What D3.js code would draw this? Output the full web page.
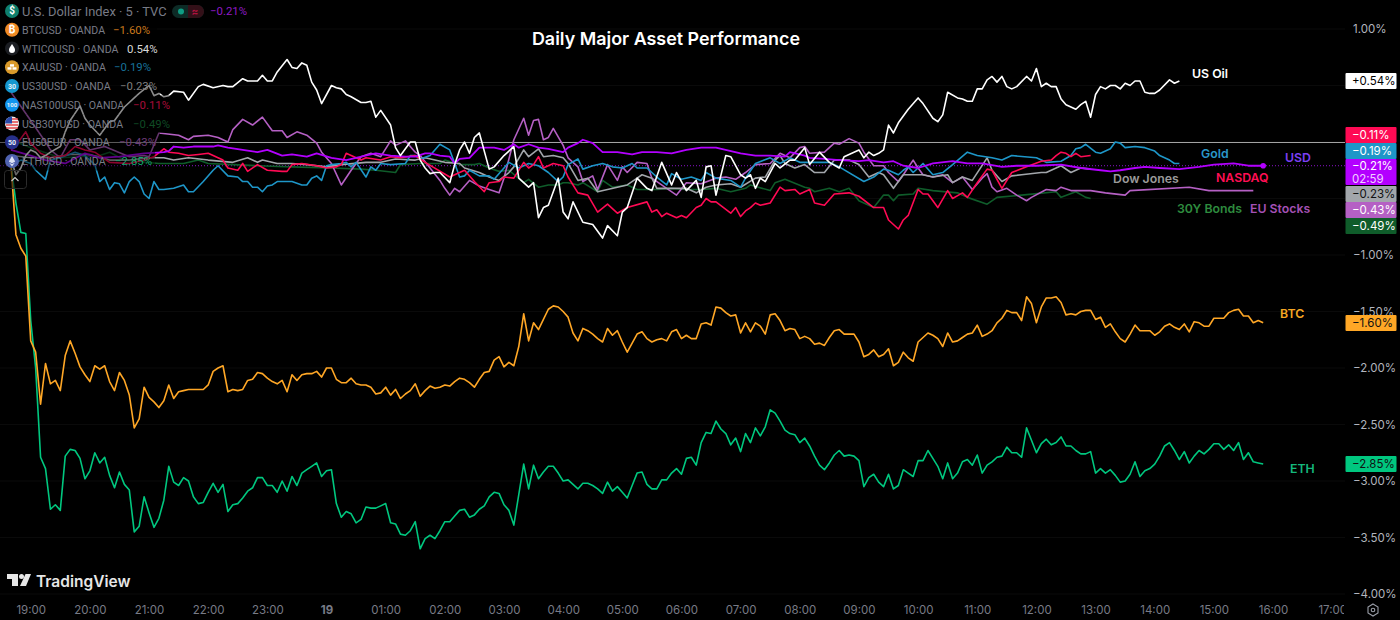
<!DOCTYPE html>
<html>
<head>
<meta charset="utf-8">
<script src="https://cdn.jsdelivr.net/npm/d3@7"></script>
<style>
  html, body { margin: 0; background: #000; overflow: hidden; }
  text { font-family: Inter, "Open Sans", sans-serif; }
  .legend text { font-family: Roboto, Inter, sans-serif; }
</style>
</head>
<body>
<script>
// five-minute bars counted from 18:40, values are % change
const btcValues = [-0.20,-0.82,-0.94,-1.01,-1.76,-1.86,-2.32,-1.96,-2.14,-2.11,-2.20,-1.89,-1.76,-1.87,-1.99,-2.06,-2.12,-1.98,-2.01,-1.98,-2.12,-2.20,-2.04,-2.11,-2.24,-2.53,-2.45,-2.17,-2.26,-2.30,-2.35,-2.29,-2.15,-2.27,-2.21,-2.20,-2.19,-2.19,-2.19,-2.19,-2.15,-2.03,-2.00,-1.98,-2.21,-2.19,-2.20,-2.19,-2.11,-2.10,-2.04,-2.05,-2.09,-2.12,-2.14,-2.11,-2.21,-2.06,-2.11,-2.06,-2.05,-2.05,-2.03,-2.08,-2.00,-2.00,-2.10,
  -2.13,-2.13,-2.09,-2.14,-2.15,-2.15,-2.17,-2.23,-2.22,-2.17,-2.24,-2.19,-2.27,-2.23,-2.20,-2.14,-2.25,-2.20,-2.16,-2.18,-2.17,-2.15,-2.16,-2.12,-2.09,-2.10,-2.13,-2.17,-2.10,-2.04,-2.03,-1.93,-1.90,-1.99,-1.95,-1.98,-1.81,-1.52,-1.76,-1.60,-1.66,-1.57,-1.48,-1.45,-1.46,-1.50,-1.55,-1.69,-1.76,-1.65,-1.67,-1.70,-1.74,-1.77,-1.65,-1.71,-1.67,-1.77,-1.86,-1.78,-1.70,-1.68,-1.74,-1.77,-1.75,-1.74,-1.76,-1.68,-1.66,-1.74,-1.71,-1.74,-1.74,-1.61,-1.60,-1.62,-1.46,-1.47,-1.51,-1.54,-1.53,-1.69,-1.60,-1.68,-1.60,-1.63,-1.70,-1.53,-1.52,-1.58,-1.67,-1.65,-1.66,
  -1.74,-1.72,-1.74,-1.79,-1.78,-1.80,-1.73,-1.67,-1.66,-1.70,-1.70,-1.70,-1.77,-1.90,-1.88,-1.84,-1.90,-1.88,-1.83,-1.98,-1.95,-1.86,-1.91,-1.94,-1.77,-1.73,-1.69,-1.71,-1.74,-1.81,-1.69,-1.77,-1.76,-1.73,-1.70,-1.69,-1.62,-1.72,-1.70,-1.67,-1.60,-1.56,-1.49,-1.51,-1.51,-1.58,-1.37,-1.43,-1.60,-1.46,-1.38,-1.38,-1.37,-1.42,-1.53,-1.52,-1.53,-1.50,-1.49,-1.49,-1.57,-1.55,-1.64,-1.61,-1.68,-1.74,-1.77,-1.70,-1.62,-1.67,-1.67,-1.67,-1.71,-1.68,-1.63,-1.61,-1.64,-1.66,-1.61,-1.68,-1.59,-1.60,-1.63,-1.63,-1.56,-1.56,-1.56,-1.51,-1.49,-1.48,-1.54,-1.54,-1.60,-1.58,-1.60];

const ethValues = [-0.20,-0.54,-0.80,-0.81,-1.58,-2.00,-2.79,-2.89,-3.25,-3.21,-3.26,-2.78,-2.72,-2.73,-2.80,-2.98,-2.91,-2.75,-2.84,-2.79,-2.95,-3.06,-2.92,-3.03,-3.08,-3.45,-3.40,-3.14,-3.28,-3.41,-3.33,-3.17,-2.87,-3.01,-3.04,-2.97,-3.00,-3.14,-3.20,-3.19,-3.10,-3.02,-3.10,-3.03,-3.27,-3.21,-3.20,-3.15,-3.09,-3.06,-2.97,-2.97,-3.04,-3.04,-3.10,-3.00,-3.09,-2.96,-3.04,-2.93,-2.90,-2.87,-2.84,-2.96,-2.91,-2.90,-3.20,
  -3.32,-3.27,-3.29,-3.37,-3.34,-3.23,-3.24,-3.24,-3.22,-3.20,-3.37,-3.38,-3.47,-3.48,-3.44,-3.36,-3.60,-3.51,-3.48,-3.51,-3.44,-3.36,-3.36,-3.31,-3.26,-3.25,-3.32,-3.30,-3.25,-3.22,-3.14,-3.10,-3.11,-3.21,-3.26,-3.39,-3.12,-2.85,-3.07,-2.86,-2.98,-2.92,-2.87,-2.87,-2.93,-3.00,-2.99,-3.03,-3.07,-3.02,-3.02,-3.04,-3.07,-3.11,-3.01,-3.09,-3.05,-3.10,-3.15,-3.04,-2.93,-2.92,-3.03,-3.07,-3.07,-2.99,-2.99,-2.93,-2.89,-2.94,-2.80,-2.79,-2.86,-2.66,-2.57,-2.58,-2.47,-2.54,-2.58,-2.68,-2.62,-2.74,-2.58,-2.66,-2.53,-2.60,-2.52,-2.37,-2.40,-2.47,-2.55,-2.58,-2.59,
  -2.66,-2.62,-2.69,-2.78,-2.86,-2.90,-2.84,-2.77,-2.73,-2.78,-2.77,-2.78,-2.82,-3.05,-2.97,-2.94,-3.01,-3.05,-2.94,-3.07,-3.04,-2.90,-2.93,-2.96,-2.82,-2.82,-2.73,-2.80,-2.87,-2.98,-2.84,-2.98,-2.93,-2.83,-2.81,-2.86,-2.77,-2.93,-2.86,-2.83,-2.79,-2.78,-2.70,-2.75,-2.75,-2.79,-2.53,-2.64,-2.75,-2.67,-2.63,-2.68,-2.66,-2.61,-2.69,-2.69,-2.73,-2.76,-2.76,-2.74,-2.93,-2.89,-2.93,-2.90,-2.95,-3.01,-3.00,-2.94,-2.83,-2.96,-2.91,-2.89,-2.85,-2.78,-2.69,-2.66,-2.73,-2.81,-2.74,-2.84,-2.78,-2.73,-2.76,-2.72,-2.67,-2.67,-2.72,-2.68,-2.73,-2.66,-2.81,-2.75,-2.83,-2.84,-2.85];

// the rest as [bar, %] pairs, read at the line's visible corners
const oilPoints = [[0,-.15],[1,-.29],[2,-.23],[3,-.12],[4,-.07],[5,-.09],[6,-.14],[7,-.12],[8,-.09],[10,-.04],[11,.09],[12,.19],[14,.32],[15,.21],[16,.15],[18,.06],[20,.18],[21,.19],[23,.31],[25,.39],[26,.43],[28,.50],[29,.41],[30,.43],[31,.40],[32,.41],[33,.45],[35,.44],[36,.37],[38,.49],[39,.51],[41,.48],[43,.50],[44,.49],[45,.49],[47,.56],[48,.54],[50,.54],[51,.59],[52,.54],[53,.54],[54,.62],[56,.73],[57,.66],[58,.65],[59,.70],[60,.68],[61,.53],[62,.46],[63,.34],[65,.50],[66,.48],[67,.47],[68,.42],[69,.40],[71,.35],[72,.35],[73,.36],[74,.22],[75,.28],[77,.15],[78,-.05],[79,-.12],[81,0],[82,0],[83,-.16],[84,-.23],[85,-.28],[86,-.27],[87,-.27],[89,-.36],[90,-.20],[91,-.07],[92,0],[93,-.10],[94,.04],[95,.08],[97,-.24],[98,-.22],[100,-.12],[102,-.04],[103,-.32],[104,-.36],[105,-.40],[106,-.36],[107,-.67],[108,-.58],[109,-.56],[111,-.32],[112,-.62],[113,-.68],[114,-.53],[116,-.71],[118,-.73],[120,-.85],[121,-.74],[123,-.83],[124,-.62],[125,-.58],[127,-.32],[129,-.41],[130,-.43],[132,-.18],[134,-.38],[135,-.27],[137,-.43],[139,-.34],[140,-.49],[141,-.22],[142,-.21],[143,-.47],[145,-.12],[146,-.13],[148,-.29],[149,-.32],[150,-.29],[151,-.41],[152,-.32],[153,-.35],[155,-.19],[156,-.23],[158,-.16],[159,-.16],[161,-.05],[162,-.20],[164,-.09],[166,-.18],[168,-.23],[169,-.13],[172,-.07],[173,-.14],[174,-.09],[175,-.12],[176,-.10],[177,-.07],[178,.15],[179,.08],[180,.17],[182,.29],[184,.39],[185,.34],[187,.21],[188,.18],[189,.24],[190,.44],[192,.39],[193,.38],[194,.36],[195,.36],[196,.47],[197,.47],[198,.55],[199,.58],[200,.53],[201,.58],[202,.49],[203,.47],[204,.49],[206,.58],[207,.54],[208,.65],[209,.49],[210,.52],[211,.49],[212,.49],[213,.38],[214,.33],[216,.29],[217,.33],[218,.36],[219,.22],[220,.42],[221,.49],[222,.47],[223,.50],[224,.50],[225,.47],[226,.52],[227,.50],[228,.54],[229,.54],[230,.44],[231,.43],[232,.43],[233,.46],[235,.55],[236,.52],[237,.54]];

const goldPoints = [[0,-.21],[2,-.16],[4,-.19],[5,-.25],[7,-.33],[8,-.16],[10,-.14],[13,-.09],[15,-.12],[17,-.20],[18,-.35],[19,-.31],[20,-.42],[21,-.36],[22,-.37],[23,-.45],[24,-.35],[25,-.31],[26,-.35],[27,-.46],[28,-.50],[29,-.35],[30,-.42],[31,-.42],[33,-.41],[35,-.38],[36,-.44],[37,-.44],[39,-.35],[41,-.25],[42,-.21],[44,-.30],[46,-.31],[47,-.35],[48,-.35],[49,-.40],[50,-.40],[51,-.44],[52,-.39],[53,-.38],[54,-.35],[57,-.35],[59,-.38],[60,-.38],[61,-.32],[62,-.30],[63,-.34],[64,-.21],[65,-.20],[67,-.19],[68,-.18],[69,-.22],[70,-.18],[72,-.31],[73,-.22],[74,-.25],[75,-.19],[77,-.20],[80,-.19],[81,-.12],[82,-.12],[83,-.15],[85,-.12],[87,-.02],[89,-.07],[91,-.31],[92,-.30],[93,-.25],[95,-.30],[97,-.30],[98,-.33],[100,-.23],[101,-.18],[103,-.23],[105,-.19],[107,-.21],[109,-.27],[111,-.35],[112,-.31],[113,-.20],[115,-.15],[116,-.24],[118,-.21],[120,-.19],[122,-.22],[124,-.23],[126,-.19],[127,-.23],[129,-.23],[131,-.31],[133,-.38],[134,-.28],[136,-.33],[138,-.31],[140,-.34],[141,-.27],[143,-.32],[146,-.34],[148,-.40],[149,-.32],[151,-.19],[154,-.14],[156,-.19],[158,-.14],[160,-.18],[163,-.18],[166,-.18],[168,-.22],[173,-.35],[175,-.31],[177,-.24],[178,-.25],[180,-.29],[181,-.25],[182,-.22],[183,-.27],[185,-.19],[187,-.29],[189,-.27],[191,-.20],[194,-.09],[196,-.12],[199,-.14],[201,-.16],[203,-.12],[208,-.14],[210,-.18],[213,-.17],[215,-.12],[216,-.06],[217,-.05],[218,-.02],[220,-.09],[221,-.10],[223,-.06],[224,0],[225,-.01],[226,-.05],[228,-.04],[230,-.05],[232,-.08],[233,-.12],[234,-.14],[235,-.16],[236,-.19],[237,-.19]];

const usdPoints = [[0,-.07],[4,-.12],[7,-.16],[11,-.19],[15,-.10],[18,-.14],[22,-.13],[27,-.10],[31,-.09],[32,-.08],[33,-.04],[35,-.05],[37,-.04],[39,-.04],[41,-.04],[42,-.03],[44,-.05],[47,-.07],[50,-.09],[52,-.07],[55,-.12],[57,-.11],[60,-.13],[62,-.10],[65,-.14],[68,-.16],[70,-.14],[73,-.11],[74,-.10],[77,-.12],[80,-.13],[82,-.13],[84,-.10],[85,-.10],[87,-.12],[89,-.13],[90,-.19],[91,-.15],[93,-.14],[95,-.05],[98,-.05],[100,-.07],[102,-.02],[103,-.05],[105,-.02],[107,-.05],[109,-.06],[112,-.09],[113,-.05],[115,-.01],[116,.02],[118,-.01],[120,-.09],[123,-.09],[126,-.11],[128,-.09],[131,-.09],[134,-.10],[137,-.07],[140,-.05],[143,-.05],[148,-.10],[151,-.12],[154,-.12],[157,-.13],[158,-.09],[161,-.12],[162,-.14],[165,-.15],[168,-.16],[172,-.17],[174,-.16],[177,-.18],[179,-.17],[181,-.21],[184,-.23],[187,-.19],[191,-.17],[194,-.19],[197,-.19],[201,-.22],[204,-.21],[208,-.21],[213,-.20],[217,-.23],[221,-.25],[223,-.26],[225,-.25],[228,-.23],[230,-.22],[233,-.23],[237,-.24],[241,-.22],[244,-.20],[248,-.19],[251,-.21],[254,-.21]];

const nasdaqPoints = [[0,-.07],[1,-.03],[3,.09],[4,-.01],[6,-.10],[8,-.14],[11,-.12],[13,-.04],[15,-.07],[17,-.09],[20,-.18],[24,-.19],[27,-.16],[29,-.13],[31,-.06],[32,-.09],[34,-.10],[36,-.12],[38,-.11],[40,-.10],[41,-.12],[42,-.14],[43,-.16],[44,-.23],[46,-.25],[47,-.19],[48,-.26],[50,-.20],[52,-.25],[55,-.26],[56,-.26],[57,-.20],[59,-.19],[62,-.21],[64,-.23],[66,-.22],[67,-.20],[68,-.10],[69,-.12],[71,-.16],[72,-.14],[75,-.16],[77,-.13],[79,-.14],[82,-.12],[84,-.18],[89,-.31],[91,-.27],[92,-.25],[94,-.35],[96,-.44],[97,-.36],[99,-.35],[100,-.31],[102,-.32],[104,-.18],[105,-.23],[106,-.20],[107,-.13],[108,-.23],[110,-.19],[112,-.21],[113,-.31],[115,-.45],[117,-.47],[119,-.62],[121,-.55],[123,-.63],[125,-.58],[129,-.53],[130,-.62],[131,-.60],[132,-.66],[133,-.63],[135,-.67],[136,-.65],[137,-.67],[139,-.58],[140,-.56],[141,-.50],[142,-.53],[143,-.53],[146,-.63],[147,-.58],[148,-.66],[149,-.61],[150,-.58],[151,-.54],[152,-.56],[154,-.54],[156,-.40],[157,-.43],[159,-.42],[160,-.46],[162,-.42],[163,-.54],[165,-.56],[167,-.46],[170,-.45],[172,-.48],[175,-.58],[177,-.58],[178,-.69],[180,-.77],[181,-.69],[182,-.65],[184,-.42],[185,-.46],[186,-.46],[188,-.58],[190,-.43],[191,-.50],[193,-.45],[194,-.49],[196,-.36],[198,-.24],[199,-.25],[201,-.41],[203,-.27],[206,-.22],[209,-.17],[211,-.16],[212,-.12],[213,-.09],[214,-.10],[215,-.13],[216,-.10],[217,-.13],[219,-.12]];

const dowPoints = [[0,-.12],[4,-.14],[8,-.14],[12,-.11],[16,-.11],[20,-.16],[24,-.16],[28,-.14],[31,-.14],[33,-.16],[36,-.14],[40,-.16],[45,-.18],[48,-.14],[50,-.18],[51,-.16],[54,-.19],[57,-.19],[60,-.20],[64,-.22],[67,-.20],[72,-.18],[75,-.18],[78,-.15],[82,-.16],[84,-.14],[88,-.18],[91,-.19],[92,-.23],[95,-.27],[97,-.31],[99,-.34],[101,-.27],[102,-.22],[104,-.07],[105,-.13],[107,-.06],[108,-.13],[110,-.12],[112,-.14],[113,-.19],[115,-.34],[117,-.32],[119,-.44],[123,-.40],[125,-.38],[127,-.32],[128,-.29],[130,-.32],[131,-.41],[134,-.41],[137,-.41],[139,-.45],[141,-.40],[143,-.38],[146,-.37],[148,-.40],[151,-.32],[153,-.31],[155,-.16],[156,-.12],[157,-.19],[159,-.23],[161,-.20],[163,-.27],[165,-.27],[167,-.16],[170,-.16],[172,-.20],[174,-.31],[176,-.27],[177,-.29],[179,-.41],[181,-.29],[185,-.29],[187,-.31],[190,-.29],[191,-.36],[193,-.31],[195,-.34],[198,-.14],[199,-.25],[201,-.35],[203,-.30],[205,-.29],[209,-.27],[210,-.27],[213,-.21],[215,-.27],[217,-.23],[219,-.24]];

const bondPoints = [[0,.02],[4,-.05],[10,-.14],[18,-.12],[20,-.09],[23,-.16],[30,-.19],[35,-.19],[38,-.16],[40,-.19],[45,-.20],[50,-.21],[57,-.22],[65,-.23],[71,-.24],[74,-.25],[78,-.27],[79,-.20],[83,-.19],[87,-.19],[88,-.16],[91,-.20],[94,-.20],[95,-.19],[97,-.23],[99,-.26],[101,-.25],[104,-.36],[105,-.33],[107,-.40],[109,-.38],[111,-.38],[112,-.36],[113,-.36],[115,-.38],[116,-.36],[119,-.44],[120,-.34],[122,-.40],[125,-.38],[127,-.42],[131,-.42],[134,-.41],[137,-.42],[140,-.42],[143,-.41],[146,-.44],[149,-.41],[150,-.38],[154,-.43],[155,-.36],[157,-.33],[161,-.40],[162,-.41],[163,-.44],[166,-.41],[168,-.44],[170,-.41],[172,-.52],[175,-.58],[177,-.47],[178,-.47],[179,-.52],[180,-.47],[183,-.46],[184,-.41],[187,-.43],[192,-.45],[194,-.49],[198,-.55],[200,-.49],[205,-.47],[212,-.44],[213,-.49],[216,-.44],[218,-.49],[219,-.50]];

const euPoints = [[0,.44],[4,.19],[7,0],[8,-.07],[10,-.14],[12,.02],[14,.02],[16,-.07],[19,-.04],[24,-.13],[27,-.12],[28,-.13],[30,.08],[34,.06],[36,.02],[37,.05],[40,.06],[42,.04],[44,0],[45,.11],[47,.20],[49,.15],[51,.22],[53,.10],[55,.10],[56,.04],[58,.09],[60,.06],[62,-.01],[63,-.09],[65,-.19],[67,-.38],[69,-.25],[71,-.13],[73,-.10],[75,-.13],[77,.01],[78,-.03],[80,.01],[82,-.09],[83,-.12],[87,-.34],[88,-.41],[89,-.47],[90,-.41],[91,-.44],[93,-.34],[95,-.39],[97,-.42],[99,-.45],[100,-.32],[102,.02],[104,.21],[105,.06],[106,.19],[107,.20],[108,.02],[109,.04],[110,.12],[112,-.03],[113,-.14],[115,-.22],[116,-.35],[118,-.30],[119,-.42],[121,-.20],[123,-.34],[124,-.22],[125,-.27],[127,-.18],[129,-.19],[130,-.32],[133,-.41],[135,-.47],[137,-.36],[140,-.37],[143,-.32],[145,-.31],[147,-.33],[149,-.27],[151,-.20],[154,-.19],[156,-.10],[158,-.14],[160,-.05],[161,-.04],[162,-.10],[165,-.09],[167,-.01],[168,-.02],[170,.03],[172,-.01],[173,-.09],[175,-.21],[177,-.21],[178,-.27],[180,-.35],[181,-.29],[183,-.16],[184,-.23],[185,-.29],[187,-.31],[189,-.29],[191,-.36],[193,-.31],[195,-.42],[197,-.32],[198,-.28],[199,-.40],[200,-.44],[202,-.41],[204,-.47],[206,-.52],[207,-.49],[210,-.42],[212,-.43],[213,-.40],[215,-.43],[219,-.43],[222,-.45],[226,-.47],[227,-.43],[239,-.40],[243,-.43],[252,-.43]];

const yTicks = [1,-1,-1.5,-2,-2.5,-3,-3.5,-4];
const gridTicks = [1,.5,0,-.5,-1,-1.5,-2,-2.5,-3,-3.5,-4];
const hourTicks = d3.range(0,23); // hours after 19:00

const legendNames = ["U.S. Dollar Index · 5 · TVC","BTCUSD · OANDA","WTICOUSD · OANDA","XAUUSD · OANDA","US30USD · OANDA","NAS100USD · OANDA","USB30YUSD · OANDA","EU50EUR · OANDA","ETHUSD · OANDA"];
const legendValues = ["−0.21%","−1.60%","0.54%","−0.19%","−0.23%","−0.11%","−0.49%","−0.43%","−2.85%"];
const legendValueX = [210,113,127,114,120,133,133,119,115];
const legendValueColors = ["#8f1bc4","#c9781c","#d8d8d8","#17719a","#7f7f7f","#a80c39","#0f4a24","#6d3b78","#13a56e"];
const legendBgWidths = [250,157,162,155,160,175,175,160,155];
const iconColors = ["#0f7f6c","#f08a24","#1b1d22","#d99a2b","#1597cf","#1295f0","#f2f2f2","#26308a","#4f62b0"];
const iconTexts = ["$","₿","","","30","100","","50",""];

const tagTexts = ["+0.54%","−0.11%","−0.19%","−0.21%","−0.23%","−0.43%","−0.49%","−1.60%","−2.85%"];
const tagY = [81,135,151,172,194,210,226,323,464];
const tagFill = ["#ffffff","#ff0a54","#1e96c8","#b300ff","#a2a6ab","#b560c4","#0f5c2a","#ffa726","#00c77f"];
const tagInk = ["#000","#fff","#fff","#fff","#111","#fff","#fff","#111","#111"];

const seriesLabels = ["US Oil","Gold","USD","NASDAQ","Dow Jones","30Y Bonds","EU Stocks","BTC","ETH"];
const seriesLabelX = [1192,1201,1285,1216,1113,1177,1250,1280,1290];
const seriesLabelY = [73,153,157,177,178,208,208,313,468];
const seriesLabelColors = ["#ffffff","#2a97c9","#7b3ff2","#ff0f54","#9a9a9a","#2e8b3e","#a450b5","#f5a623","#14b87c"];

const width = 1400, height = 620, paneRight = 1345;

const svg = d3.select("body").append("svg")
  .attr("width", width).attr("height", height)
  .style("display", "block").style("background", "#000");

const start = new Date(2025, 0, 18, 18, 40);
const barTime = b => d3.timeMinute.offset(start, 5 * b);

const x = d3.scaleTime().domain([start, barTime(268)]).range([11, 1332.2]);
const y = d3.scaleLinear().domain([1, -4]).range([29, 594]);

svg.append("clipPath").attr("id", "pane")
  .append("rect").attr("width", paneRight).attr("height", height);

// faint grid
svg.append("g").selectAll("line").data(gridTicks).join("line")
  .attr("x1", 0).attr("x2", paneRight)
  .attr("y1", d => y(d)).attr("y2", d => y(d))
  .attr("stroke", "#0a0a0a");

// zero line and the USD last price line
svg.append("line").attr("x1", 0).attr("x2", paneRight)
  .attr("y1", y(0) + .5).attr("y2", y(0) + .5)
  .attr("stroke", "#a3a3a3").attr("stroke-width", 1);
svg.append("line").attr("x1", 0).attr("x2", paneRight)
  .attr("y1", y(-.21)).attr("y2", y(-.21))
  .attr("stroke", "#8a12c9").attr("stroke-width", 1).attr("stroke-dasharray", "1 2");

const line = d3.line().x(d => x(barTime(d[0]))).y(d => y(d[1]));
const plot = svg.append("g").attr("clip-path", "url(#pane)");

const indexed = vals => vals.map((v, i) => [i, v]);
const lines = [
  [bondPoints, "#0f5c2a", 1.6],
  [euPoints, "#b560c4", 1.6],
  [dowPoints, "#a2a6ab", 1.6],
  [goldPoints, "#1e96c8", 1.6],
  [indexed(ethValues), "#00c77f", 1.6],
  [indexed(btcValues), "#ffa726", 1.6],
  [nasdaqPoints, "#ff0a54", 1.6],
  [usdPoints, "#b300ff", 1.8],
  [oilPoints, "#ffffff", 1.6]
];
plot.selectAll("path.asset").data(lines).join("path")
  .attr("class", "asset")
  .attr("d", d => line(d[0]))
  .attr("fill", "none")
  .attr("stroke", d => d[1])
  .attr("stroke-width", d => d[2])
  .attr("stroke-linejoin", "round");

const lastUsd = usdPoints[usdPoints.length - 1];
plot.append("circle")
  .attr("cx", x(barTime(lastUsd[0]))).attr("cy", y(lastUsd[1])).attr("r", 2.8)
  .attr("fill", "#b300ff");

// legend rows sit over the lines and dim them
const rowY = i => i == 0 ? 11 : 11 + 18.75 * i;
svg.append("g").selectAll("rect").data(legendBgWidths).join("rect")
  .attr("x", 0).attr("y", (d, i) => rowY(i) - 9.5)
  .attr("width", d => d).attr("height", 19)
  .attr("fill", "#000").attr("opacity", .45);

const legend = svg.append("g").attr("class", "legend");
legendNames.forEach((name, i) => {
  const row = legend.append("g").attr("transform", `translate(0,${rowY(i)})`);
  row.append("circle").attr("cx", 12).attr("r", 7).attr("fill", iconColors[i]);
  if (iconTexts[i]) row.append("text").attr("x", 12).attr("y", i == 5 ? 2.5 : 3)
    .attr("text-anchor", "middle").attr("fill", i == 0 || i == 1 ? "#fff" : "#e8f4fb")
    .attr("font-size", i == 5 ? 6 : i == 0 || i == 1 ? 10 : 7).attr("font-weight", 700)
    .text(iconTexts[i]);
  row.append("text").attr("x", 22).attr("y", i == 0 ? 5 : 4)
    .attr("font-size", i == 0 ? 12.9 : 10.6).attr("fill", "#787b86").text(name);
  row.append("text").attr("x", legendValueX[i]).attr("y", 4)
    .attr("font-size", 11.4).attr("fill", legendValueColors[i]).text(legendValues[i]);
});

// icon details without text
const drop = legend.append("g").attr("transform", `translate(12,${rowY(2)})`);
drop.append("path").attr("d", "M0,-4.5C2,-1.5 3,0 3,1.5A3,3 0 0 1 -3,1.5C-3,0 -2,-1.5 0,-4.5Z").attr("fill", "#fff");
const bars = legend.append("g").attr("transform", `translate(12,${rowY(3)})`);
bars.append("rect").attr("x", -2).attr("y", -3).attr("width", 4).attr("height", 2.4).attr("fill", "#fff");
bars.append("rect").attr("x", -4.5).attr("y", 0).attr("width", 4).attr("height", 2.4).attr("fill", "#fff");
bars.append("rect").attr("x", .5).attr("y", 0).attr("width", 4).attr("height", 2.4).attr("fill", "#fff");
const flag = legend.append("g").attr("transform", `translate(12,${rowY(6)})`);
[-4.5,-1.5,1.5,4.5].forEach(s => flag.append("line").attr("x1", s > 0 ? -6 : -2).attr("x2", 6).attr("y1", s).attr("y2", s).attr("stroke", "#e03a3e").attr("stroke-width", 1.4));
flag.append("path").attr("d", "M-7,0A7,7 0 0 1 0,-7V0Z").attr("fill", "#2a4aa8");
const eth = legend.append("g").attr("transform", `translate(12,${rowY(8)})`);
eth.append("path").attr("d", "M0,-5L3.2,.4L0,2.2L-3.2,.4Z M0,3.2L3,1.4L0,5.5L-3,1.4Z").attr("fill", "#dfe4f5");

// market status pill
svg.append("rect").attr("x", 172).attr("y", 5).attr("width", 32).attr("height", 13).attr("rx", 6.5).attr("fill", "#0d2b26");
svg.append("path").attr("d", "M188,5H197.5A6.5,6.5 0 0 1 197.5,18H188Z").attr("fill", "#331018");
svg.append("circle").attr("cx", 181).attr("cy", 11.5).attr("r", 3).attr("fill", "#0f9d83");
svg.append("text").attr("x", 195).attr("y", 15).attr("text-anchor", "middle")
  .attr("font-size", 10).attr("font-weight", 700).attr("fill", "#b0123f").text("≈");

// collapse button
svg.append("rect").attr("x", 4.5).attr("y", 170.5).attr("width", 22).attr("height", 18).attr("rx", 3)
  .attr("fill", "#000").attr("fill-opacity", .6).attr("stroke", "#2c2c2c");
svg.append("path").attr("d", "M11.5,181L15,177.5L18.5,181").attr("fill", "none").attr("stroke", "#ccc").attr("stroke-width", 1.2);

// title and series names
svg.append("text").attr("x", 666).attr("y", 45).attr("text-anchor", "middle")
  .attr("font-size", 17.9).attr("font-weight", 600).attr("fill", "#fff")
  .text("Daily Major Asset Performance");

svg.append("g").selectAll("text").data(seriesLabels).join("text")
  .attr("x", (d, i) => seriesLabelX[i]).attr("y", (d, i) => seriesLabelY[i] + 4.5)
  .attr("font-size", 12.3).attr("font-weight", 600)
  .attr("fill", (d, i) => seriesLabelColors[i]).text(d => d);

// price axis
const fmtPct = d => (d < 0 ? "−" : "") + Math.abs(d).toFixed(2) + "%";
const yAxis = svg.append("g").attr("transform", `translate(${paneRight},0)`)
  .call(d3.axisRight(y).tickValues(yTicks).tickSize(0).tickPadding(8).tickFormat(fmtPct));
yAxis.select(".domain").remove();
yAxis.selectAll("text").attr("font-size", 11.5).attr("fill", "#b2b5be")
  .style("font-family", "Inter, 'Open Sans', sans-serif");

// last value tags
const tags = svg.append("g").selectAll("g").data(tagTexts).join("g")
  .attr("transform", (d, i) => `translate(1345.5,${tagY[i]})`);
tags.append("rect").attr("y", (d, i) => i == 3 ? -13 : -8)
  .attr("width", 51).attr("height", (d, i) => i == 3 ? 26 : 16).attr("rx", 1)
  .attr("fill", (d, i) => tagFill[i]);
tags.append("text").attr("x", 6.5).attr("y", (d, i) => i == 3 ? -2 : 4)
  .attr("font-size", 11.5).attr("fill", (d, i) => tagInk[i]).text(d => d);
tags.filter((d, i) => i == 3).append("text").attr("x", 6.5).attr("y", 11)
  .attr("font-size", 11.5).attr("fill", "#f0d0ff").text("02:59");

// time axis, clipped where the pane ends
svg.append("clipPath").attr("id", "timeClip")
  .append("rect").attr("y", -10).attr("width", 1344).attr("height", 30);
const xAxis = svg.append("g").attr("transform", "translate(0,600)").attr("clip-path", "url(#timeClip)")
  .call(d3.axisBottom(x)
    .tickValues(hourTicks.map(h => d3.timeHour.offset(new Date(2025, 0, 18, 19), h)))
    .tickSize(0).tickPadding(6)
    .tickFormat(d => d.getHours() == 0 ? "19" : d3.timeFormat("%H:%M")(d)));
xAxis.select(".domain").remove();
xAxis.selectAll("text").attr("font-size", 11.5).attr("fill", "#787b86")
  .style("font-family", "Inter, 'Open Sans', sans-serif")
  .attr("font-weight", d => d.getHours() == 0 ? 700 : 400);

// settings gear
svg.append("path").attr("d", "M1373,604L1378,607V613L1373,616L1368,613V607Z")
  .attr("fill", "none").attr("stroke", "#9a9ea8").attr("stroke-width", 1.1);
svg.append("circle").attr("cx", 1373).attr("cy", 610).attr("r", 1.8)
  .attr("fill", "none").attr("stroke", "#9a9ea8").attr("stroke-width", 1.1);

// TradingView mark and name
const logo = svg.append("g").attr("fill", "#e6e6e6").attr("transform", "translate(7,574)");
logo.append("path").attr("d", "M0,0H11V12H5V5H0Z");
logo.append("circle").attr("cx", 14.5).attr("cy", 2.5).attr("r", 2.5);
logo.append("path").attr("d", "M18.5,0H24L19,12H13Z");
svg.append("text").attr("x", 36).attr("y", 586.5)
  .attr("font-size", 15.5).attr("font-weight", 600).attr("fill", "#e6e6e6").text("TradingView");
</script>
</body>
</html>
